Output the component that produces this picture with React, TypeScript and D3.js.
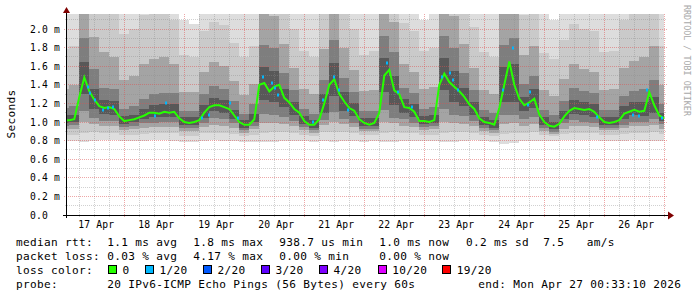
import React from 'react';
import * as d3 from 'd3';

// ---- data ----
// median rtt in ms, one value every 2 hours from 17 Apr 00:00
const medianRtt = [
  1.02, 1.02, 1.03, 1.27, 1.48, 1.33, 1.24, 1.17, 1.15, 1.16,
  1.14, 1.06, 1.01, 1.02, 1.03, 1.05, 1.07, 1.10, 1.10, 1.09,
  1.11, 1.10, 1.11, 1.04, 1.00, 0.99, 1.00, 1.02, 1.10, 1.16,
  1.18, 1.18, 1.16, 1.14, 1.07, 1.00, 0.97, 0.97, 1.03, 1.40,
  1.42, 1.33, 1.38, 1.40, 1.26, 1.21, 1.14, 1.10, 1.01, 0.97,
  0.97, 1.03, 1.20, 1.40, 1.46, 1.30, 1.22, 1.15, 1.12, 1.03,
  0.99, 0.97, 0.99, 1.10, 1.50, 1.56, 1.34, 1.30, 1.16, 1.15,
  1.11, 1.01, 1.01, 1.00, 1.02, 1.40, 1.52, 1.43, 1.38, 1.33,
  1.27, 1.19, 1.14, 1.04, 1.00, 0.99, 0.97, 1.15, 1.40, 1.65,
  1.40, 1.25, 1.18, 1.21, 1.25, 1.08, 1.00, 0.96, 0.95, 0.98,
  1.06, 1.12, 1.15, 1.14, 1.13, 1.14, 1.11, 1.05, 1.00, 0.99,
  1.00, 1.02, 1.09, 1.11, 1.13, 1.11, 1.12, 1.32, 1.18, 1.07,
  1.04,
];

// samples with 1/20 loss: [hour since 17 Apr 00:00, median ms]
const lossMarks = [
  [9.5, 1.38], [10.3, 1.31], [12.3, 1.24], [15.5, 1.13], [17.5, 1.15], [19.5, 1.16],
  [36.3, 1.06], [40.7, 1.2], [55.1, 1.04], [57.9, 1.08], [66.3, 1.2], [69.5, 1.04],
  [79.5, 1.48], [83.1, 1.42], [84.3, 1.37], [85.5, 1.29], [99.5, 1.0], [103.5, 1.24],
  [107.9, 1.48], [109.9, 1.34], [113.5, 1.13], [129.1, 1.63], [133.5, 1.32], [139.1, 1.16],
  [151.1, 1.48], [154.3, 1.53], [155.5, 1.45], [157.5, 1.34], [175.5, 1.34], [179.5, 1.8],
  [185.5, 1.18], [186.3, 1.32], [213.1, 1.05], [227.5, 1.07], [229.9, 1.06], [233.1, 1.34],
  [239.1, 1.04],
];

// smoke: sorted ping ranks (ms), one value every 4 hours from 17 Apr 00:00
const ping1 = [.80,.80,.79,.80,.81,.81,.80,.80,.80,.81, .81,.80,.78,.78,.80,.81,.80,.80,.79,.79, .78,.79,.80,.80,.80,.79,.80,.79,.80,.80, .79,.80,.79,.79,.80,.80,.80,.80,.78,.79, .80,.81,.80,.78,.76,.77,.80,.80,.80,.80, .81,.81,.81,.81,.80,.80,.80,.81,.80,.80,.80];
const ping2 = [.86,.86,.88,.89,.88,.88,.86,.86,.87,.88, .88,.88,.85,.85,.88,.88,.88,.87,.85,.86, .88,.89,.89,.88,.86,.85,.89,.89,.89,.88, .86,.86,.88,.89,.88,.88,.86,.86,.88,.89, .89,.88,.86,.85,.87,.88,.88,.89,.86,.85, .87,.88,.88,.88,.86,.86,.87,.88,.88,.89,.87];
const ping4 = [.92,.93,1.0,.98,.96,.96,.91,.92,.94,.95, .95,.95,.90,.90,.95,.97,.96,.94,.88,.92, .99,.99,.98,.96,.91,.88,.97,1.0,.98,.95, .90,.90,1.0,.99,.96,.95,.91,.92,1.0,.99, .98,.96,.90,.88,.98,.99,.96,.98,.90,.87, .93,.96,.96,.95,.91,.91,.94,.96,.96,.97,.93];
const ping6 = [.96,.97,1.12,1.04,1.01,1.01,.95,.96,.99,.99, 1.0,1.0,.94,.94,.99,1.04,1.03,.99,.91,.96, 1.09,1.07,1.05,1.01,.95,.91,1.02,1.11,1.03,.99, .93,.93,1.13,1.04,1.03,.99,.95,.96,1.14,1.07, 1.06,1.01,.94,.91,1.07,1.07,1.03,1.05,.94,.89, .99,1.02,1.0,.99,.94,.94,.97,1.0,1.0,1.03,.98];
const ping8 = [.99,1.0,1.30,1.14,1.09,1.08,.98,1.0,1.03,1.05, 1.05,1.05,.97,.97,1.04,1.12,1.10,1.03,.94,1.0, 1.24,1.21,1.16,1.08,.98,.94,1.10,1.28,1.12,1.06, .96,.96,1.32,1.18,1.10,1.05,.98,.99,1.34,1.21, 1.17,1.08,.97,.94,1.22,1.22,1.12,1.15,.97,.92, 1.03,1.09,1.07,1.05,.97,.97,1.03,1.07,1.06,1.10,1.01];
const ping13 = [1.07,1.08,1.65,1.35,1.24,1.23,1.06,1.08,1.14,1.18, 1.19,1.19,1.05,1.05,1.18,1.26,1.24,1.13,1.02,1.09, 1.59,1.55,1.36,1.22,1.06,1.02,1.30,1.63,1.32,1.20, 1.04,1.04,1.69,1.49,1.25,1.19,1.06,1.07,1.69,1.55, 1.37,1.22,1.05,1.02,1.59,1.62,1.27,1.35,1.05,1.00, 1.12,1.24,1.21,1.19,1.05,1.05,1.17,1.21,1.22,1.27,1.10];
const ping15 = [1.15,1.17,1.90,1.57,1.37,1.35,1.14,1.17,1.25,1.30, 1.31,1.31,1.12,1.12,1.30,1.39,1.36,1.23,1.09,1.19, 1.83,1.80,1.53,1.34,1.14,1.09,1.45,1.88,1.47,1.32, 1.12,1.12,1.92,1.75,1.37,1.31,1.14,1.16,1.93,1.80, 1.53,1.34,1.13,1.10,1.83,1.90,1.41,1.50,1.13,1.08, 1.23,1.37,1.33,1.31,1.13,1.13,1.28,1.33,1.35,1.45,1.19];
const ping17 = [1.36,1.40,2.24,1.91,1.75,1.70,1.45,1.50,1.62,1.68, 1.70,1.62,1.32,1.32,1.54,1.64,1.60,1.44,1.29,1.41, 2.18,2.14,1.84,1.58,1.35,1.30,1.78,2.22,1.80,1.56, 1.33,1.34,2.26,2.08,1.62,1.54,1.35,1.38,2.26,2.14, 1.84,1.58,1.34,1.30,2.16,2.24,1.72,1.82,1.34,1.28, 1.46,1.62,1.57,1.54,1.34,1.35,1.58,1.66,1.70,1.82,1.40];
const ping19 = [1.78,1.82,2.70,2.35,2.25,2.20,1.95,2.00,2.15,2.20, 2.20,2.10,1.72,1.70,1.98,2.08,2.04,1.85,1.70,1.82, 2.65,2.60,2.28,2.00,1.76,1.70,2.20,2.70,2.22,2.00, 1.72,1.76,2.75,2.55,2.06,1.98,1.76,1.80,2.75,2.60, 2.28,2.02,1.75,1.70,2.65,2.70,2.15,2.25,1.74,1.68, 1.88,2.05,2.00,1.98,1.75,1.76,2.10,2.20,2.30,2.40,1.82];
const ping20 = [2.6,2.6,2.9,2.6,2.6,2.6,2.5,2.6,2.6,2.6, 2.6,2.5,2.1,2.05,2.4,2.6,2.6,2.3,2.5,2.6, 2.9,2.9,2.6,2.6,2.5,2.4,2.6,2.9,2.6,2.3, 2.2,2.4,2.9,2.9,2.6,2.4,2.1,2.4,2.9,2.9, 2.6,2.5,2.4,2.5,2.9,2.9,2.6,2.6,2.3,2.1, 2.4,2.6,2.6,2.6,2.5,2.6,2.6,2.6,2.6,2.6,2.5];

const dayLabels = ['17 Apr', '18 Apr', '19 Apr', '20 Apr', '21 Apr', '22 Apr', '23 Apr', '24 Apr', '25 Apr', '26 Apr'];
const yTickValues = [0, 0.2, 0.4, 0.6, 0.8, 1.0, 1.2, 1.4, 1.6, 1.8, 2.0];
const yTickLabels = ['0.0', '0.2 m', '0.4 m', '0.6 m', '0.8 m', '1.0 m', '1.2 m', '1.4 m', '1.6 m', '1.8 m', '2.0 m'];

const statLabels = ['median rtt:', 'packet loss:', 'loss color:', 'probe:'];
const rttStats = ['1.1 ms avg', '1.8 ms max', '938.7 us min', '1.0 ms now', '0.2 ms sd', '7.5', 'am/s'];
const lossStats = ['0.03 % avg', '4.17 % max', '0.00 % min', '0.00 % now'];
const lossColorNames = ['0', '1/20', '2/20', '3/20', '4/20', '10/20', '19/20'];
const lossColors = ['#26ff00', '#00b8ff', '#0059ff', '#5e00ff', '#7e00ff', '#dd00ff', '#ff0000'];
const probeText = '20 IPv6-ICMP Echo Pings (56 Bytes) every 60s';
const endText = 'end: Mon Apr 27 00:33:10 2026';
const yAxisTitle = 'Seconds';
const watermark = 'RRDTOOL / TOBI OETIKER';

// ---- layout ----
const MONO = '"DejaVu Sans Mono", monospace';
const statX = [107.3, 193.3, 279.3, 379.3, 466, 543.3, 586.7];
const boxX = [108, 145, 203, 261, 319, 377.7, 442.3];

export default function App() {
  const x = d3.scaleLinear().domain([0, 240]).range([64.3, 664.3]);
  const y = d3.scaleLinear().domain([0, 2]).range([215, 29]);
  const L = 67, R = 666, T = 14, B = 215;
  const snap = (v: number) => Math.floor(v) + 0.5;

  const smokeHour = (i: number) => i * 4;
  const medHour = (i: number) => i * 2;

  const bands = [
    { lo: ping1, hi: ping20, color: '#dddddd' },
    { lo: ping2, hi: ping19, color: '#cacaca' },
    { lo: ping4, hi: ping17, color: '#a4a4a4' },
    { lo: ping6, hi: ping15, color: '#7e7e7e' },
    { lo: ping8, hi: ping13, color: '#585858' },
  ];
  const bandPath = (lo: number[], hi: number[]) =>
    d3.area<number>()
      .curve(d3.curveStep)
      .x((_, i) => x(smokeHour(i)))
      .y0((_, i) => y(lo[i]))
      .y1((_, i) => y(hi[i]))(lo) || '';

  const medianPath = d3.line<number>().x((_, i) => x(medHour(i))).y((d) => y(d))(medianRtt) || '';

  const minorY = d3.range(1, 22, 2).map((v) => v / 10);
  const majorY = yTickValues.filter((v) => v > 0);
  const minorX = d3.range(0, 241, 6).filter((h) => h % 24 !== 0 && x(h) > L && x(h) < 667);
  const majorX = d3.range(24, 241, 24);

  const gridMinor = 'rgba(140,140,140,0.4)';
  const gridMajor = 'rgba(222,80,80,0.5)';

  return (
    <svg width={697} height={297} style={{ position: 'absolute', left: 0, top: 0 }} fontFamily={MONO}>
      <rect x={0} y={0} width={697} height={297} fill="#ffffff" />
      <defs>
        <clipPath id="plotclip">
          <rect x={L} y={T} width={R - L} height={B - T} />
        </clipPath>
      </defs>
      <g clipPath="url(#plotclip)" shapeRendering="crispEdges">
        {bands.map((b, i) => (
          <path key={i} d={bandPath(b.lo, b.hi)} fill={b.color} />
        ))}
      </g>
      {/* grid */}
      <g shapeRendering="crispEdges" strokeDasharray="1,1">
        {minorY.map((v) => (
          <line key={'my' + v} x1={L - 2} x2={667} y1={snap(y(v))} y2={snap(y(v))} stroke={gridMinor} />
        ))}
        {minorX.map((h) => (
          <line key={'mx' + h} x1={snap(x(h))} x2={snap(x(h))} y1={T} y2={B + 2} stroke={gridMinor} />
        ))}
        {majorY.map((v) => (
          <line key={'My' + v} x1={L - 3} x2={667} y1={snap(y(v))} y2={snap(y(v))} stroke={gridMajor} />
        ))}
        {majorX.map((h) => (
          <line key={'Mx' + h} x1={snap(x(h))} x2={snap(x(h))} y1={T} y2={B + 3} stroke={gridMajor} />
        ))}
      </g>
      {/* median */}
      <g clipPath="url(#plotclip)">
        <path d={medianPath} fill="none" stroke={lossColors[0]} strokeWidth={2} />
        {lossMarks.map(([h, v], i) => (
          <rect key={i} x={Math.round(x(h)) - 1} y={Math.round(y(v)) - 1.5} width={2} height={3} fill={lossColors[1]} />
        ))}
      </g>
      {/* axes */}
      <line x1={63} x2={668} y1={215.5} y2={215.5} stroke="#000" shapeRendering="crispEdges" />
      <line x1={66.5} x2={66.5} y1={12} y2={218} stroke="#000" shapeRendering="crispEdges" />
      <path d="M668,211.5 L674,215.5 L668,219.5 Z" fill="#7f0000" />
      <path d="M63,13 L66.5,7 L70,13 Z" fill="#7f0000" />
      {/* y tick labels */}
      {yTickValues.map((v, i) => (
        <text key={'yl' + i} x={30} y={y(v) + 3.6} fontSize={9.7} letterSpacing={0.15} fill="#000">
          {yTickLabels[i]}
        </text>
      ))}
      {/* x tick labels */}
      {dayLabels.map((d, i) => (
        <text key={'xl' + i} x={x(24 * i + 12) + 2} y={228} fontSize={9.7} letterSpacing={0.15} textAnchor="middle" fill="#000">
          {d}
        </text>
      ))}
      <text transform="translate(15,114) rotate(-90)" textAnchor="middle" fontSize={11.1} letterSpacing={0.3} fill="#000">
        {yAxisTitle}
      </text>
      <text transform="translate(684,5) rotate(90)" fontSize={8.4} fill="#a8a8a8">
        {watermark}
      </text>
      {/* legend */}
      <g fontSize={11.1} letterSpacing={0.32} fill="#000" style={{ whiteSpace: 'pre' }}>
        {statLabels.map((s, i) => (
          <text key={'sl' + i} x={16} y={245.5 + 14 * i}>{s}</text>
        ))}
        {rttStats.map((s, i) => (
          <text key={'rs' + i} x={statX[i]} y={245.5}>{s}</text>
        ))}
        {lossStats.map((s, i) => (
          <text key={'ls' + i} x={statX[i]} y={259.5}>{s}</text>
        ))}
        {lossColorNames.map((s, i) => (
          <g key={'lc' + i}>
            <rect x={boxX[i] + 0.5} y={265.5} width={8} height={8} fill={lossColors[i]} stroke="#000" strokeWidth={1} shapeRendering="crispEdges" />
            <text x={boxX[i] + 14.5} y={273.5}>{s}</text>
          </g>
        ))}
        <text x={107.3} y={287.5}>{probeText}</text>
        <text x={478.3} y={287.5}>{endText}</text>
      </g>
    </svg>
  );
}
